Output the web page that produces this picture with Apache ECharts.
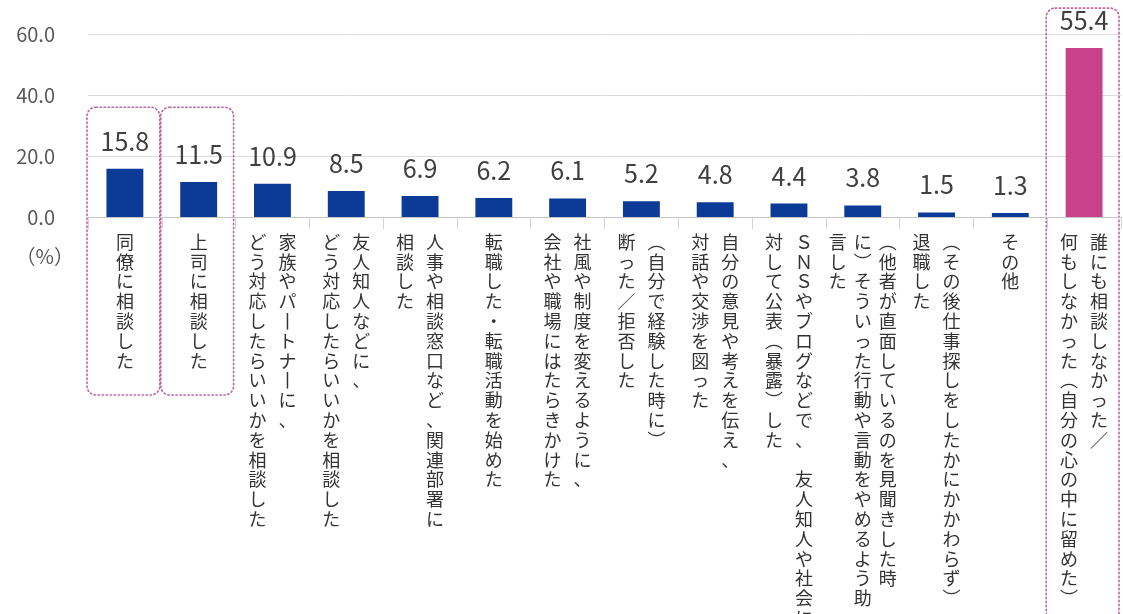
<!DOCTYPE html>
<html lang="ja">
<head>
<meta charset="utf-8">
<title>ハラスメントを受けた後の行動</title>
<script src="https://cdn.jsdelivr.net/npm/echarts@6/dist/echarts.min.js"></script>
<style>
  html, body { margin: 0; padding: 0; background: #ffffff; }
  #chart { width: 1123px; height: 614px; }
</style>
</head>
<body>
<div id="chart"></div>
<script>
// Category labels: each "\n" starts a new vertical column (columns run right to left)
const categories = [
  "同僚に相談した",
  "上司に相談した",
  "家族やパートナーに、\nどう対応したらいいかを相談した",
  "友人知人などに、\nどう対応したらいいかを相談した",
  "人事や相談窓口など、関連部署に\n相談した",
  "転職した・転職活動を始めた",
  "社風や制度を変えるように、\n会社や職場にはたらきかけた",
  "（自分で経験した時に）\n断った／拒否した",
  "自分の意見や考えを伝え、\n対話や交渉を図った",
  "ＳＮＳやブログなどで、　友人知人や社会に\n対して公表（暴露）した",
  "（他者が直面しているのを見聞きした時\nに）そういった行動や言動をやめるよう助\n言した",
  "（その後仕事探しをしたかにかかわらず）\n退職した",
  "その他",
  "誰にも相談しなかった／\n何もしなかった（自分の心の中に留めた）"
];

// Share of respondents (%)
const values = [15.8, 11.5, 10.9, 8.5, 6.9, 6.2, 6.1, 5.2, 4.8, 4.4, 3.8, 1.5, 1.3, 55.4];

// Value axis range
const yMin = 0;
const yMax = 60;
const yStep = 20;
const yUnit = "（%）";

// Emphasised category and the categories framed with a dotted outline
const highlightIndex = 13;
const framedIndices = [0, 1, 13];
const framedTopValues = [36, 36, 68.5];

const BLUE = "#0b3b96";
const PINK = "#c8418a";
const FONT = "'Noto Sans CJK JP', 'Noto Sans', sans-serif";

// Vertical-writing forms for glyphs that rotate in tategaki
const verticalForms = { "ー": "丨", "（": "︵", "）": "︶" };

function toVerticalLabel(text) {
  const cols = text.split("\n").map(c => Array.from(c).map(ch => verticalForms[ch] || ch));
  const rows = Math.max.apply(null, cols.map(c => c.length));
  const style = cols.length === 1 ? "c1" : (cols.length === 2 ? "c2" : "c3");
  const ordered = cols.slice().reverse(); // leftmost column is the last one
  const lines = [];
  for (let r = 0; r < rows; r++) {
    lines.push(ordered.map(c => "{" + style + "|" + (c[r] || "　") + "}").join(""));
  }
  return lines.join("\n");
}

const cellBase = { fontSize: 18, lineHeight: 19.8, color: "#333333", fontFamily: FONT, align: "center" };

const chart = echarts.init(document.getElementById("chart"), null, { renderer: "canvas" });

chart.setOption({
  backgroundColor: "#ffffff",
  animation: false,
  grid: { left: 88, right: 2, top: 34, bottom: 397, containLabel: false, outerBoundsMode: "none" },
  xAxis: {
    type: "category",
    data: categories,
    axisLine: { show: true, lineStyle: { color: "#c4c4c4", width: 1 } },
    axisTick: { show: true, length: 12, interval: 0, lineStyle: { color: "#d4d4d4" } },
    axisLabel: {
      interval: 0,
      margin: 15,
      formatter: toVerticalLabel,
      rich: {
        c1: Object.assign({ width: 22 }, cellBase),
        c2: Object.assign({ width: 30 }, cellBase),
        c3: Object.assign({ width: 25 }, cellBase)
      }
    }
  },
  yAxis: {
    type: "value",
    min: yMin,
    max: yMax,
    interval: yStep,
    axisLine: { show: false },
    axisTick: { show: false },
    splitLine: { lineStyle: { color: "#dcdcdc", width: 1 } },
    axisLabel: {
      margin: 33,
      fontSize: 20,
      color: "#595959",
      fontFamily: FONT,
      formatter: v => v.toFixed(1)
    }
  },
  series: [{
    type: "bar",
    barWidth: "50%",
    data: values.map((v, i) => ({ value: v, itemStyle: { color: i === highlightIndex ? PINK : BLUE } })),
    label: {
      show: true,
      position: "top",
      distance: 15,
      fontSize: 25,
      color: "#404040",
      fontFamily: FONT,
      formatter: p => p.value.toFixed(1)
    }
  }]
});

// Dotted rounded frames around selected categories, placed from the axis scales
function drawFrames() {
  const yZero = chart.convertToPixel({ yAxisIndex: 0 }, 0);
  const graphics = framedIndices.map((idx, k) => {
    const c0 = chart.convertToPixel({ xAxisIndex: 0 }, idx);
    const c1 = chart.convertToPixel({ xAxisIndex: 0 }, idx === categories.length - 1 ? idx - 1 : idx + 1);
    const band = Math.abs(c1 - c0);
    const top = chart.convertToPixel({ yAxisIndex: 0 }, framedTopValues[k]);
    const bottom = idx === highlightIndex ? yZero + 440 : yZero + 178;
    return {
      type: "rect",
      silent: true,
      shape: { x: c0 - band / 2 - 1, y: top, width: band - 1, height: bottom - top, r: 9 },
      style: { fill: null, stroke: "#c0649c", lineWidth: 1.6, lineDash: [1.4, 2.6], lineCap: "round" }
    };
  });
  graphics.push({
    type: "text",
    silent: true,
    x: 74,
    y: 256,
    style: { text: yUnit, font: "20px " + FONT, fill: "#595959", align: "right", verticalAlign: "middle" }
  });
  chart.setOption({ graphic: graphics });
}
drawFrames();
</script>
</body>
</html>
